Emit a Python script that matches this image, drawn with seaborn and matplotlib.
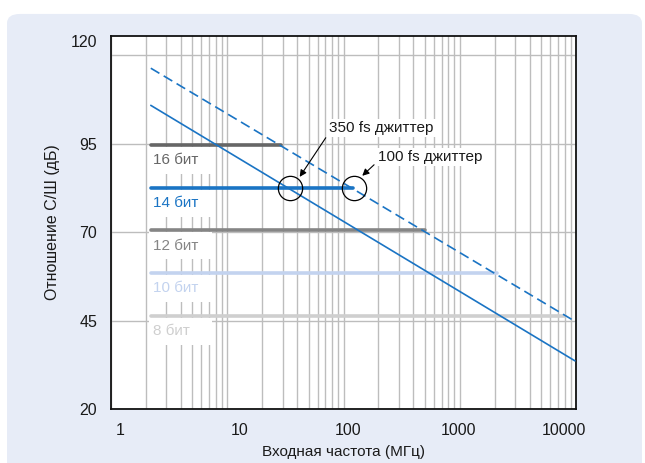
import matplotlib
matplotlib.use("Agg")
import matplotlib.pyplot as plt
import seaborn as sns
import pandas as pd
from matplotlib.patches import Rectangle, FancyBboxPatch
from matplotlib.ticker import FixedLocator, NullFormatter
from matplotlib.transforms import ScaledTranslation

# ---- data ----
bit_labels = ["16 бит", "14 бит", "12 бит", "10 бит", "8 бит"]
bit_snr = [94.6, 82.5, 70.5, 58.4, 46.4]
bit_start = [2.2, 2.2, 2.2, 2.2, 2.2]
bit_end = [29.0, 120.0, 500.0, 2100.0, 8000.0]
bit_colors = ["#666666", "#1a74c4", "#858585", "#c3d3ef", "#cfcfcf"]

jit100_freq = [2.2, 10000.0]
jit100_snr = [116.3, 44.6]
jit350_freq = [2.2, 9800.0]
jit350_snr = [105.8, 33.6]

x_ticks = [1, 10, 100, 1000, 10000]
x_ticklabels = ["1", "10", "100", "1000", "10000"]
y_ticks = [20, 45, 70, 95, 120]
y_ticklabels = ["20", "45", "70", "95", "120"]

BLUE = "#1a74c4"

sns.set_theme(style="white")
plt.rcParams['font.family'] = ['Liberation Sans', 'DejaVu Sans']

fig = plt.figure(figsize=(6.45, 4.63), dpi=100)
fig.patch.set_facecolor("white")
panel = FancyBboxPatch((7 / 645, -0.1), 635 / 645, 1.085 - 7 / 463,
                       boxstyle="round,pad=0,rounding_size=0.02",
                       transform=fig.transFigure, facecolor="#e7ecf7",
                       edgecolor="none", zorder=-10)
fig.patches.append(panel)

ax = fig.add_axes([111 / 645, 1 - 409 / 463, (576 - 111) / 645, (409 - 36) / 463])
ax.set_facecolor("white")
ax.set_xscale("log")
ax.set_xlim(1, 10000)
ax.set_ylim(20, 125.4)

# grid
minor = [m * 10 ** e for e in range(0, 4) for m in range(2, 10)]
ax.xaxis.set_major_locator(FixedLocator(x_ticks))
ax.xaxis.set_minor_locator(FixedLocator(minor))
ax.xaxis.set_minor_formatter(NullFormatter())
ax.set_xticklabels(x_ticklabels)
ax.set_yticks(y_ticks)
ax.set_yticklabels(y_ticklabels)
ax.grid(True, which="both", axis="x", color="#bdbdbd", lw=1.0, zorder=0)
ax.grid(True, which="major", axis="y", color="#bdbdbd", lw=1.0, zorder=0)
ax.set_axisbelow(True)
ax.tick_params(axis="both", which="both", length=0, labelsize=11.5, colors="#1a1a1a")
ax.tick_params(axis="x", pad=10)
ax.tick_params(axis="y", pad=10)

# tick label nudges as in the reference artwork
x_shift_px = [9, 12, 5, -1, -12]
for lab, dx in zip(ax.get_xticklabels(), x_shift_px):
    lab.set_transform(lab.get_transform() + ScaledTranslation(dx / 100, 0, fig.dpi_scale_trans))
y_shift_px = [0, 0, 0, 0, 14]
for lab, dy in zip(ax.get_yticklabels(), y_shift_px):
    lab.set_transform(lab.get_transform() + ScaledTranslation(0, dy / 100, fig.dpi_scale_trans))

# white boxes behind bit labels
for lvl in bit_snr:
    ax.add_patch(Rectangle((2.12, lvl - 8.2), 7.4 - 2.12, 7.6,
                           facecolor="white", edgecolor="none", zorder=1))

# bit level lines
rows = []
for lab, s, x0, x1 in zip(bit_labels, bit_snr, bit_start, bit_end):
    rows.append({"series": lab, "freq": x0, "snr": s})
    rows.append({"series": lab, "freq": x1, "snr": s})
df_bits = pd.DataFrame(rows)
sns.lineplot(data=df_bits, x="freq", y="snr", hue="series",
             palette=dict(zip(bit_labels, bit_colors)), lw=2.6,
             legend=False, ax=ax, zorder=2)

# jitter lines
df_j100 = pd.DataFrame({"freq": jit100_freq, "snr": jit100_snr})
df_j350 = pd.DataFrame({"freq": jit350_freq, "snr": jit350_snr})
sns.lineplot(data=df_j100, x="freq", y="snr", color=BLUE, lw=1.2,
             ax=ax, zorder=3, linestyle=(0, (6, 3)))
sns.lineplot(data=df_j350, x="freq", y="snr", color=BLUE, lw=1.2, ax=ax, zorder=3)

# bit labels
for lab, s, c in zip(bit_labels, bit_snr, bit_colors):
    ax.text(2.28, s - 4.3, lab, color=c, fontsize=11, va="center", ha="left", zorder=4)

# circles at intersections
ax.plot([34.9, 122.7], [82.5, 82.5], linestyle="none", marker="o", ms=17.5,
        mfc="none", mec="black", mew=0.9, zorder=5)

# annotations
ax.annotate("350 fs джиттер", xy=(42, 85.6), xytext=(75.7, 99.4),
            fontsize=11, ha="left", va="center", color="#1a1a1a",
            bbox=dict(facecolor="white", edgecolor="none", pad=1.5),
            arrowprops=dict(arrowstyle="-|>", color="black", lw=0.8,
                            mutation_scale=10, shrinkA=2, shrinkB=0,
                            relpos=(0, 0.2)), zorder=6)
ax.annotate("100 fs джиттер", xy=(145, 85.9), xytext=(199, 91.3),
            fontsize=11, ha="left", va="center", color="#1a1a1a",
            bbox=dict(facecolor="white", edgecolor="none", pad=1.5),
            arrowprops=dict(arrowstyle="-|>", color="black", lw=0.8,
                            mutation_scale=10, shrinkA=2, shrinkB=0,
                            relpos=(0, 0.2)), zorder=6)

for sp in ax.spines.values():
    sp.set_visible(True)
    sp.set_color("#111111")
    sp.set_linewidth(1.3)

ax.set_xlabel("Входная частота (МГц)", fontsize=11, color="#1a1a1a", labelpad=5)
ax.set_ylabel("Отношение С/Ш (дБ)", fontsize=11.5, color="#1a1a1a", labelpad=8)

fig.savefig("out.png", dpi=100)
